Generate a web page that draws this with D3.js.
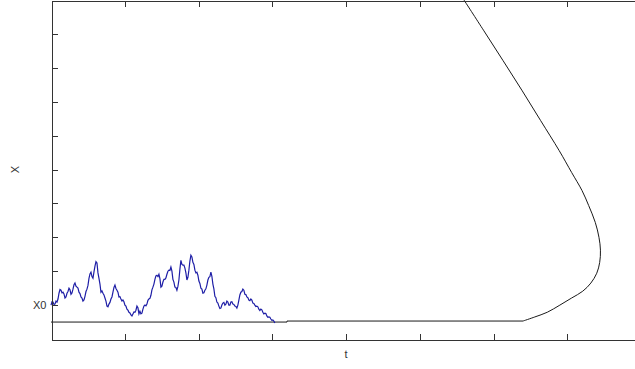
<!DOCTYPE html>
<html>
<head>
<meta charset="utf-8">
<script src="https://cdn.jsdelivr.net/npm/d3@7"></script>
<style>
  html, body { margin: 0; padding: 0; background: #fff; }
  svg { display: block; }
  .axis path, .axis line { stroke: #333; shape-rendering: crispEdges; }
  .axis text { font: 11px "Liberation Sans", "DejaVu Sans", sans-serif; fill: #333; }
  .lbl { font: 11px "Liberation Sans", "DejaVu Sans", sans-serif; fill: #333; }
</style>
</head>
<body>
<div id="chart"></div>
<script>
// simulated path X(t), sampled every dt from t = 0 until it hits the boundary
const dt = 0.01355;
const pathX = [
  1.00, 1.10, 1.09, 1.02, 1.03, 1.12, 1.09, 1.18, 1.35, 1.46,
  1.44, 1.36, 1.38, 1.33, 1.21, 1.24, 1.35, 1.40, 1.50, 1.45,
  1.32, 1.36, 1.47, 1.60, 1.65, 1.56, 1.53, 1.50, 1.38, 1.34,
  1.24, 1.21, 1.12, 1.15, 1.26, 1.40, 1.47, 1.58, 1.79, 1.92,
  1.97, 1.84, 1.79, 1.98, 2.15, 2.28, 2.24, 1.95, 1.79, 1.62,
  1.38, 1.42, 1.35, 1.30, 1.21, 1.12, 0.97, 0.95, 1.03, 1.08,
  1.18, 1.24, 1.38, 1.52, 1.59, 1.49, 1.44, 1.38, 1.24, 1.25,
  1.18, 1.12, 1.15, 1.10, 1.00, 0.97, 0.88, 0.85, 0.79, 0.77,
  0.71, 0.68, 0.74, 0.80, 0.79, 0.85, 0.97, 0.92, 0.74, 0.82,
  0.74, 0.76, 0.88, 0.97, 1.00, 0.98, 1.03, 1.14, 1.18, 1.20,
  1.29, 1.45, 1.53, 1.62, 1.76, 1.86, 1.88, 1.84, 1.91, 1.78,
  1.53, 1.56, 1.68, 1.76, 1.76, 1.80, 1.91, 2.00, 2.03, 2.02,
  2.12, 2.00, 1.76, 1.68, 1.53, 1.52, 1.44, 1.55, 1.74, 2.06,
  2.32, 2.20, 2.18, 2.18, 2.09, 1.95, 1.74, 1.82, 2.03, 2.30,
  2.47, 2.42, 2.26, 2.20, 2.03, 1.95, 1.97, 1.88, 1.71, 1.64,
  1.50, 1.47, 1.35, 1.36, 1.44, 1.48, 1.59, 1.74, 1.82, 1.84,
  1.97, 1.85, 1.62, 1.48, 1.26, 1.22, 1.09, 1.06, 0.97, 0.90,
  0.91, 1.00, 1.06, 1.08, 1.00, 1.03, 1.12, 1.09, 1.00, 1.00,
  1.09, 1.10, 1.03, 1.02, 0.97, 0.96, 0.91, 1.00, 1.15, 1.30,
  1.38, 1.40, 1.47, 1.44, 1.32, 1.31, 1.24, 1.22, 1.15, 1.13,
  1.18, 1.15, 1.06, 1.05, 1.00, 0.96, 0.97, 0.95, 0.88, 0.84,
  0.88, 0.86, 0.79, 0.74, 0.76, 0.75, 0.68, 0.64, 0.65, 0.64,
  0.59, 0.55, 0.56, 0.53, 0.47
];

// flat part of the boundary
const flatT = [0, 3.20, 3.20, 6.40];
const flatX = [0.50, 0.50, 0.53, 0.53];

// curved part of the boundary
const curveT = [6.40, 6.56, 6.73, 6.90, 7.06, 7.21, 7.32, 7.40, 7.44, 7.45, 7.43, 7.38, 7.29, 7.20, 7.06, 6.89, 6.64, 6.39, 6.13, 5.87, 5.60];
const curveX = [0.53, 0.65, 0.79, 1.00, 1.21, 1.41, 1.65, 1.94, 2.26, 2.62, 3.00, 3.44, 3.94, 4.38, 4.91, 5.56, 6.44, 7.32, 8.21, 9.09, 10.00];

const tTicks = [1, 2, 3, 4, 5, 6, 7, 8];
const xTicks = [1, 2, 3, 4, 5, 6, 7, 8, 9];
const xTickLabels = { 1: "X0" };

const width = 635, height = 369;
const plotLeft = 51, plotRight = 641, plotTop = 0, plotBottom = 339;

const x = d3.scaleLinear().domain([0, 8]).range([plotLeft, plotRight]);
const y = d3.scaleLinear().domain([0, 10]).range([plotBottom, plotTop]);

const svg = d3.select("#chart").append("svg")
  .attr("width", width)
  .attr("height", height);

const line = d3.line().x((d) => x(d[0])).y((d) => y(d[1]));

// boundary
svg.append("path")
  .datum(flatT.map((t, i) => [t, flatX[i]]))
  .attr("fill", "none")
  .attr("stroke", "#1a1a1a")
  .attr("stroke-width", 1)
  .attr("d", line);

svg.append("path")
  .datum(curveT.map((t, i) => [t, curveX[i]]))
  .attr("fill", "none")
  .attr("stroke", "#1a1a1a")
  .attr("stroke-width", 1)
  .attr("d", d3.line().x((d) => x(d[0])).y((d) => y(d[1])).curve(d3.curveCatmullRom));

// random path
svg.append("path")
  .datum(pathX.map((v, i) => [i * dt, v]))
  .attr("fill", "none")
  .attr("stroke", "#1e1ea6")
  .attr("stroke-width", 1.2)
  .attr("d", line);

// axes, ticks pointing inward, box all round
svg.append("g").attr("class", "axis")
  .attr("transform", `translate(0,${plotBottom + 0.5})`)
  .call(d3.axisBottom(x).tickValues(tTicks).tickSizeInner(-6).tickSizeOuter(0).tickFormat(""));

svg.append("g").attr("class", "axis")
  .attr("transform", `translate(0,${plotTop + 0.5})`)
  .call(d3.axisTop(x).tickValues(tTicks).tickSizeInner(-6).tickSizeOuter(0).tickFormat(""));

svg.append("g").attr("class", "axis")
  .attr("transform", `translate(${plotLeft + 0.5},0)`)
  .call(d3.axisLeft(y).tickValues(xTicks).tickSizeInner(-6).tickSizeOuter(0).tickPadding(5)
    .tickFormat((d) => xTickLabels[d] || ""));

svg.append("g").attr("class", "axis")
  .attr("transform", `translate(${plotRight + 0.5},0)`)
  .call(d3.axisRight(y).tickValues(xTicks).tickSizeInner(-6).tickSizeOuter(0).tickFormat(""));

// axis labels
svg.append("text").attr("class", "lbl")
  .attr("x", x(4)).attr("y", 358)
  .attr("text-anchor", "middle")
  .text("t");

svg.append("text").attr("class", "lbl")
  .attr("transform", `translate(19,${y(5)}) rotate(-90)`)
  .attr("text-anchor", "middle")
  .text("X");
</script>
</body>
</html>
